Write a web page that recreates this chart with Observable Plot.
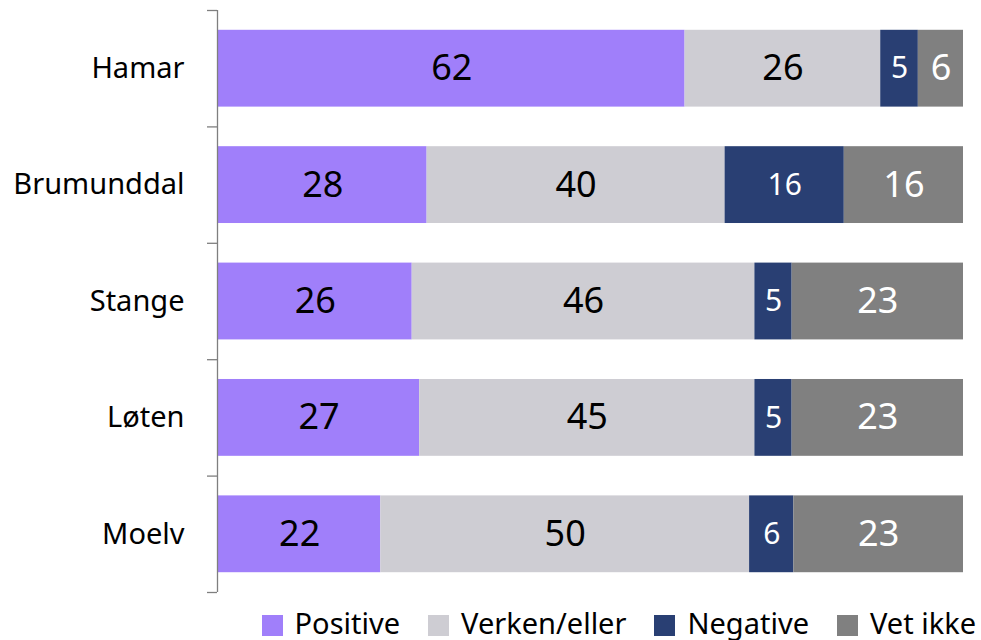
<!DOCTYPE html>
<html>
<head>
<meta charset="utf-8">
<script src="https://cdn.jsdelivr.net/npm/d3@7"></script>
<script src="https://cdn.jsdelivr.net/npm/@observablehq/plot@0.6"></script>
<style>
  body { margin: 0; background: #fff; font-family: "Noto Sans", sans-serif; }
  #chart { width: 981px; }
  .legend { display: flex; justify-content: flex-end; align-items: center; height: 36px; padding-right: 5px; font-size: 29px; color: #000; }
  .legend .item { display: flex; align-items: center; margin-left: 28px; }
  .legend .sw { width: 21px; height: 21px; margin-right: 12px; margin-top: 6px; }
</style>
</head>
<body>
<div id="chart"></div>
<script>
const categories = ["Hamar", "Brumunddal", "Stange", "Løten", "Moelv"];
const seriesNames = ["Positive", "Verken/eller", "Negative", "Vet ikke"];
const positive = [62, 28, 26, 27, 22];
const verken = [26, 40, 46, 45, 50];
const negative = [5, 16, 5, 5, 6];
const vetIkke = [6, 16, 23, 23, 23];
const colors = ["#a07ffa", "#cecdd3", "#293f73", "#808080"];
const labelColors = ["#000", "#000", "#fff", "#fff"];

const seriesValues = [positive, verken, negative, vetIkke];
const rows = categories.flatMap((cat, i) => {
  const vals = seriesValues.map(s => s[i]);
  const total = d3.sum(vals);
  let acc = 0;
  return vals.map((v, j) => {
    const x1 = acc / total;
    acc += v;
    return {cat, i, j, series: seriesNames[j], value: v, x1, x2: acc / total};
  });
});

const plot = Plot.plot({
  width: 981,
  height: 604,
  marginLeft: 218,
  marginRight: 18,
  marginTop: 10,
  marginBottom: 12,
  style: {fontFamily: "Noto Sans, sans-serif", background: "#fff"},
  x: {domain: [0, 1], axis: null},
  y: {domain: [0, categories.length], reverse: true, axis: null},
  color: {domain: seriesNames, range: colors},
  marks: [
    Plot.rectX(rows, {
      x1: "x1", x2: "x2",
      y1: d => d.i + 0.17, y2: d => d.i + 0.83,
      fill: "series"
    }),
    Plot.text(rows, {
      x: d => (d.x1 + d.x2) / 2,
      y: d => d.i + 0.5,
      text: d => String(d.value),
      fill: d => labelColors[d.j],
      fontSize: d => d.j === 2 ? 30 : 36
    }),
    Plot.ruleX([0], {y1: 0, y2: categories.length, stroke: "#7f7f7f", strokeWidth: 1.3, dx: -1}),
    Plot.axisY(d3.range(categories.length + 1), {
      tickSize: 10, tickFormat: () => "", stroke: "#7f7f7f", strokeWidth: 1.3, dx: -1
    }),
    Plot.axisY(categories.map((_, i) => i + 0.5), {
      tickSize: 0, tickPadding: 34,
      tickFormat: v => categories[Math.floor(v)],
      fontSize: 29, fill: "#000"
    })
  ]
});
document.getElementById("chart").appendChild(plot);

const legend = document.createElement("div");
legend.className = "legend";
seriesNames.forEach((name, j) => {
  const item = document.createElement("div");
  item.className = "item";
  const sw = document.createElement("span");
  sw.className = "sw";
  sw.style.background = colors[j];
  const lab = document.createElement("span");
  lab.textContent = name;
  item.appendChild(sw);
  item.appendChild(lab);
  legend.appendChild(item);
});
document.getElementById("chart").appendChild(legend);
</script>
</body>
</html>
